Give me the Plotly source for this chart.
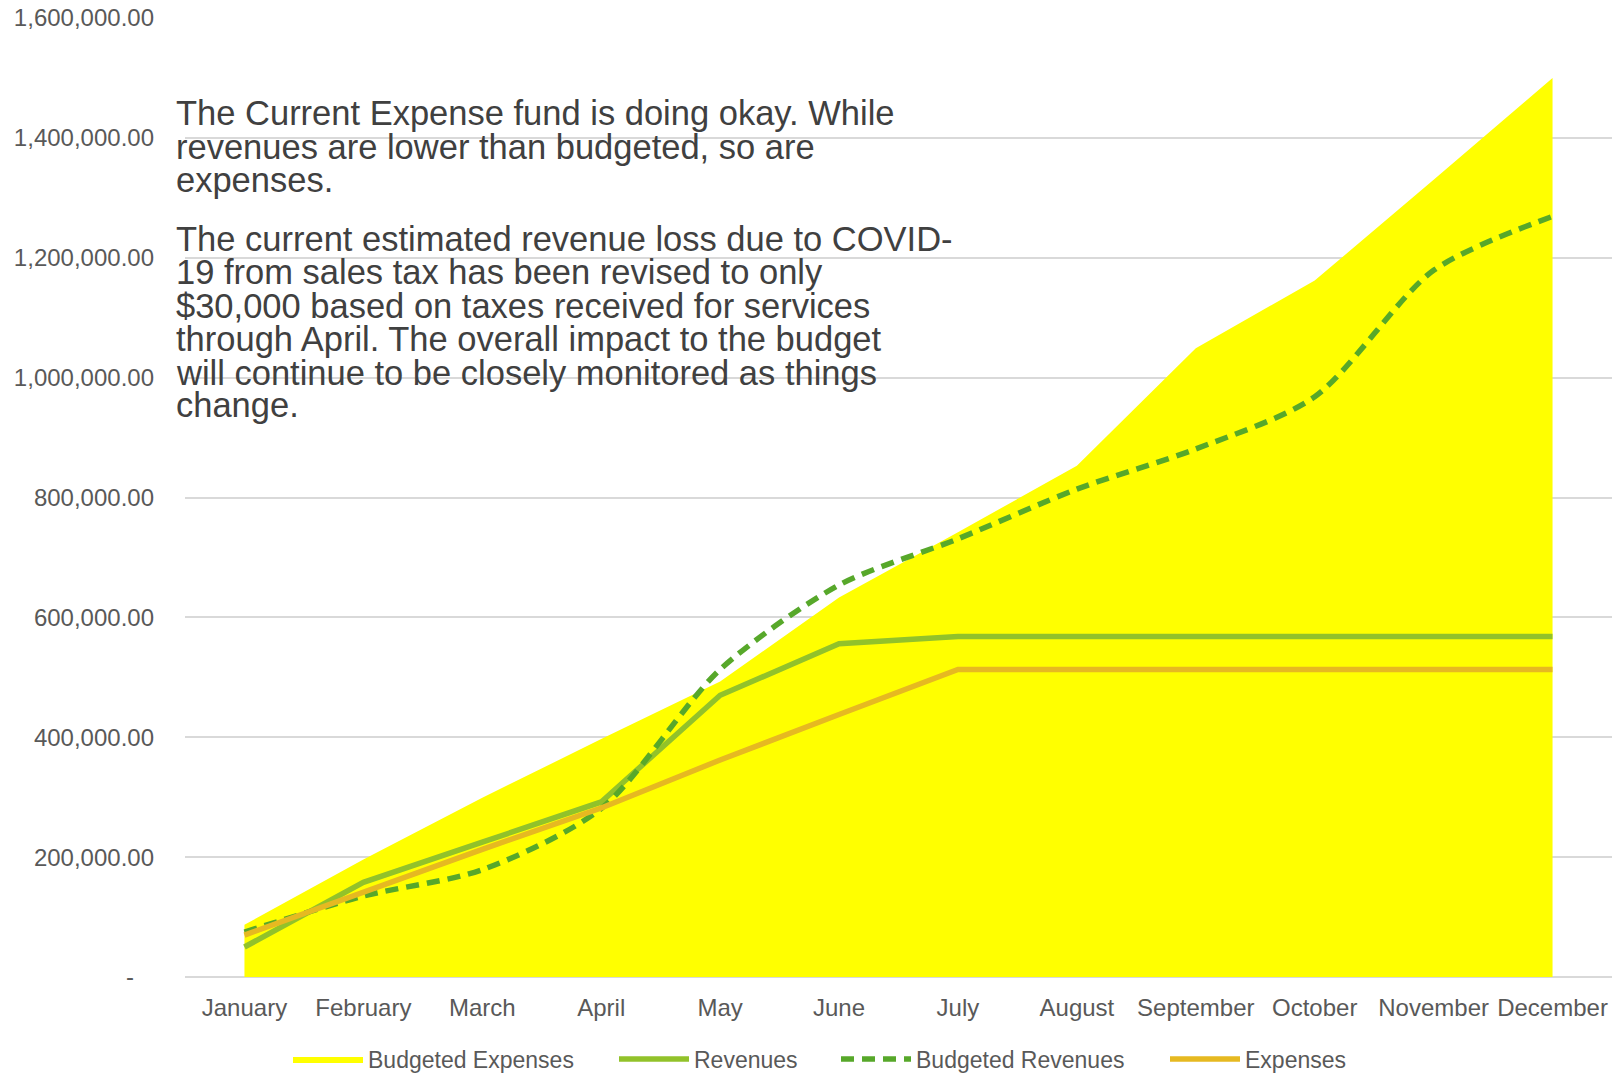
import plotly.graph_objects as go

months = ["January", "February", "March", "April", "May", "June", "July",
          "August", "September", "October", "November", "December"]
budgeted_expenses = [87000, 196000, 299000, 397000, 493000, 633000, 742000,
                     853000, 1049000, 1162000, 1330000, 1500000]
revenues = [50000, 158000, 225000, 292000, 470000, 556000, 568000,
            568000, 568000, 568000, 568000, 568000]
budgeted_revenues = [75000, 135000, 179000, 281000, 513000, 654000, 731000,
                     814000, 881000, 968000, 1179000, 1269000]
expenses = [70000, 142000, 213000, 282000, 362000, 438000, 513000,
            513000, 513000, 513000, 513000, 513000]
y_tickvals = [0, 200000, 400000, 600000, 800000, 1000000, 1200000, 1400000, 1600000]
y_ticktext = ["-\u00a0\u00a0\u00a0"] + [f"{v:,.2f}" for v in y_tickvals[1:]]

note_lines = [
    "The Current Expense fund is doing okay. While",
    "revenues are lower than budgeted, so are",
    "expenses.",
    "The current estimated revenue loss due to COVID-",
    "19 from sales tax has been revised to only",
    "$30,000 based on taxes received for services",
    "through April. The overall impact to the budget",
    "will continue to be closely monitored as things",
    "change.",
]
note_baselines_px = [124.5, 158.5, 191.5, 251, 284, 318, 351, 385, 417]
legend_left_px = [296, 622, 844, 1173]

FONT = "Liberation Sans"
W, H = 1614, 1075
L, R, T, B = 185, 2, 17.5, 98
plot_w = W - L - R
plot_h = H - T - B

def px_x(px):
    return (px - L) / plot_w

def px_y(px):
    return (H - B - px) / plot_h

legend_ids = ["legend", "legend2", "legend3", "legend4"]

fig = go.Figure()
fig.add_trace(go.Scatter(x=months, y=budgeted_expenses, name="Budgeted Expenses",
                         mode="lines", fill="tozeroy", fillcolor="#FFFF00",
                         line=dict(width=0, color="#FFFF00"), legend=legend_ids[0]))
fig.add_trace(go.Scatter(x=months, y=revenues, name="Revenues", mode="lines",
                         line=dict(color="#92C22A", width=5.5), legend=legend_ids[1]))
fig.add_trace(go.Scatter(x=months, y=budgeted_revenues, name="Budgeted Revenues", mode="lines",
                         line=dict(color="#57A82A", width=5.5, dash="13px,8px",
                                   shape="spline", smoothing=0.8), legend=legend_ids[2]))
fig.add_trace(go.Scatter(x=months, y=expenses, name="Expenses", mode="lines",
                         line=dict(color="#E6B921", width=5.5), legend=legend_ids[3]))

for text, bl in zip(note_lines, note_baselines_px):
    fig.add_annotation(text=text, xref="paper", yref="paper",
                       x=px_x(174), y=px_y(bl),
                       xanchor="left", yanchor="bottom", yshift=-9,
                       showarrow=False, align="left",
                       font=dict(family=FONT, size=34.5, color="#404040"))

legend_layout = {}
for lid, lx in zip(legend_ids, legend_left_px):
    legend_layout[lid] = dict(orientation="h", x=px_x(lx - 8), xanchor="left",
                              y=px_y(1059), yanchor="middle",
                              font=dict(size=23, color="#595959"), itemwidth=70,
                              bgcolor="rgba(0,0,0,0)")

fig.update_layout(
    width=W, height=H,
    margin=dict(l=L, r=R, t=T, b=B, autoexpand=False),
    paper_bgcolor="white", plot_bgcolor="white",
    font=dict(family=FONT, color="#595959", size=23),
    showlegend=True,
    xaxis=dict(range=[-0.5, 11.5], showgrid=False, showline=False, ticks="",
               automargin=False, ticklabelstandoff=14,
               tickfont=dict(size=24, color="#595959")),
    yaxis=dict(range=[0, 1600000], tickvals=y_tickvals, ticktext=y_ticktext,
               showgrid=True, gridcolor="#D9D9D9", gridwidth=1.5,
               zeroline=True, zerolinecolor="#D9D9D9", zerolinewidth=1.5,
               automargin=False,
               ticklabelstandoff=30, tickfont=dict(size=24, color="#595959"),
               layer="below traces"),
    **legend_layout,
)

fig.write_html("out.html", config={"displayModeBar": False},
               post_script="document.body.style.margin='0px';document.body.style.overflow='hidden';")
